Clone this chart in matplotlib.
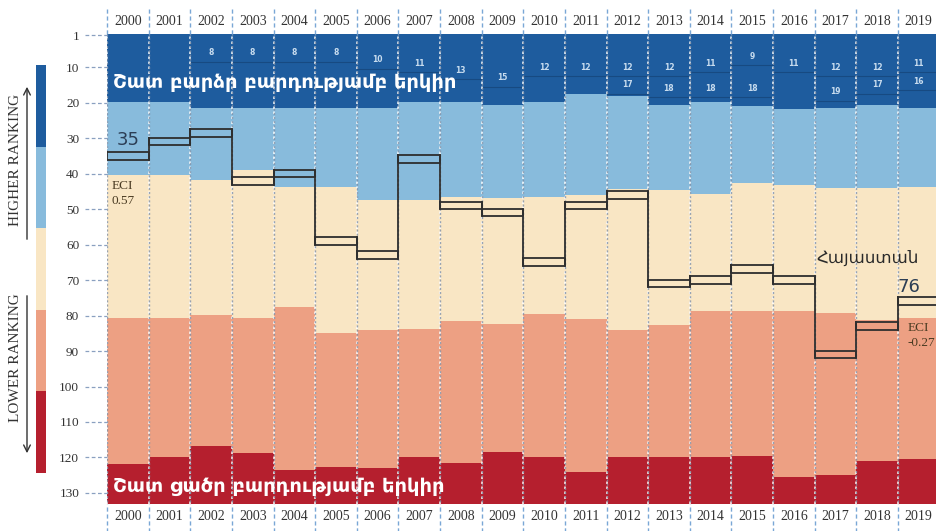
import matplotlib
matplotlib.use('Agg')
import matplotlib.pyplot as plt
import matplotlib.transforms as mtransforms

# data (rank, 1 = best)
years = list(range(2000, 2020))
dark_blue_end = [19.9, 19.9, 21.6, 21.6, 21.6, 21.6, 21.6, 19.9, 19.9, 20.7,
                 19.9, 17.6, 18.2, 20.7, 19.9, 21.0, 21.8, 21.6, 20.7, 21.6]
light_blue_end = [40.4, 40.4, 41.8, 39.0, 43.8, 43.8, 47.5, 47.5, 46.6, 46.9,
                  46.6, 46.0, 44.5, 44.7, 45.8, 42.7, 43.2, 44.1, 44.1, 43.8]
beige_end = [80.7, 80.7, 79.9, 80.7, 77.6, 85.0, 84.1, 83.8, 81.6, 82.4,
             79.6, 81.0, 84.1, 82.7, 78.7, 78.7, 78.7, 79.3, 81.3, 80.7]
salmon_end = [121.8, 119.9, 116.8, 118.7, 123.5, 122.7, 123.0, 120.0, 121.6, 118.5,
              120.0, 124.0, 120.0, 120.0, 120.0, 119.6, 125.5, 124.9, 121.0, 120.5]
armenia = [35, 31, 28.5, 42, 40, 59, 63, 36, 49, 51, 65, 49, 46, 71, 70, 67, 70, 91, 83, 76]
top_a = [None, None, 8, 8, 8, 8, 10, 11, 13, 15, 12, 12, 12, 12, 11, 9, 11, 12, 12, 11]
top_b = [None] * 12 + [17, 18, 18, 18, None, 19, 17, 16]
yticks = [1, 10, 20, 30, 40, 50, 60, 70, 80, 90, 100, 110, 120, 130]

colors = ['#1e5c9e', '#88bbdc', '#f9e6c4', '#eda083', '#b51f2e']
serif = 'Liberation Serif'

W, H = 937, 531
fig = plt.figure(figsize=(W / 100, H / 100), dpi=100)
fig.patch.set_facecolor('white')

ax = fig.add_axes([107 / W, 1 - 504 / H, (939.5 - 107) / W, 470 / H])
x = list(range(len(years)))
ymin, ymax = 0.7, 133.1

# stacked bands
b0 = [0] * len(years)
bands = [b0, dark_blue_end, light_blue_end, beige_end, salmon_end, [140] * len(years)]
for k in range(5):
    h = [bands[k + 1][i] - bands[k][i] for i in x]
    ax.bar(x, h, bottom=bands[k], width=1.0, color=colors[k], linewidth=0, zorder=1)

ax.set_xlim(-0.5, len(years) - 0.5)
ax.set_ylim(ymax, ymin)

# faint lines + small numbers in the top band
for series in (top_a, top_b):
    for i, v in enumerate(series):
        if v is None:
            continue
        ax.plot([i - 0.5, i + 0.5], [v + 0.5, v + 0.5], color='#174a82', lw=0.8, zorder=2)
        ax.text(i, v - 2.0, str(v), color='#c8dcef', fontsize=5.5, fontweight='bold',
                ha='center', va='center', zorder=3)

# year separators
for i in range(len(years) + 1):
    xb = i - 0.5
    ax.axvline(xb, color='white', lw=1.2, ls=(0, (1.5, 1.5)), alpha=0.9, zorder=4)
    ax.axvline(xb, color='#7f8fa6', lw=1.0, ls=(1.5, (1.5, 1.5)), alpha=0.8, zorder=4)
    ax.axvline(xb, ymin=1.0, ymax=1.053, color='#7aa7d6', lw=1.0, ls=(0, (3, 2)),
               clip_on=False, zorder=4)
    ax.axvline(xb, ymin=-0.06, ymax=0.0, color='#7aa7d6', lw=1.0, ls=(0, (3, 2)),
               clip_on=False, zorder=4)

# Armenia step boxes
hh = 1.1
for i, r in enumerate(armenia):
    ax.plot([i - 0.5, i + 0.5, i + 0.5, i - 0.5, i - 0.5],
            [r - hh, r - hh, r + hh, r + hh, r - hh], color='#2e2e2e', lw=1.3, zorder=5)
    if i > 0:
        p = armenia[i - 1]
        ax.plot([i - 0.5, i - 0.5], [min(p, r) - hh, max(p, r) + hh],
                color='#2e2e2e', lw=1.3, zorder=5)

# axes styling
for s in ax.spines.values():
    s.set_visible(False)
ax.set_xticks(x)
ax.set_xticklabels([str(y) for y in years], fontfamily=serif, fontsize=10, color='#333333')
ax.tick_params(axis='x', length=0, pad=4, top=True, labeltop=True, bottom=True, labelbottom=True)
ax.set_yticks(yticks)
ax.set_yticklabels([str(t) for t in yticks], fontfamily=serif, fontsize=9.5, color='#333333')
ax.tick_params(axis='y', length=0, pad=20)
trans = mtransforms.blended_transform_factory(ax.transAxes, ax.transData)
for t in yticks:
    ax.plot([-22 / 832, 0], [t, t], transform=trans, color='#8aa0c0', lw=0.9,
            ls=(0, (3, 2)), clip_on=False, zorder=4)

# texts
ax.text(-0.36, 14.5, 'Շատ բարձր բարդությամբ երկիր', color='white', fontsize=14,
        fontweight='bold', ha='left', va='center', zorder=6)
ax.text(-0.36, 128.3, 'Շատ ցածր բարդությամբ երկիր', color='white', fontsize=14,
        fontweight='bold', ha='left', va='center', zorder=6)
ax.text(-0.26, 30.6, '35', color='#2c3e55', fontsize=13, ha='left', va='center', zorder=6)
ax.text(18.5, 72, '76', color='#2c3e55', fontsize=13, ha='left', va='center', zorder=6)
ax.text(16.54, 63.8, 'Հայաստան', color='#2a2a2a', fontsize=12, ha='left', va='center', zorder=6)
ax.text(-0.38, 41.8, 'ECI\n0.57', color='#4a3b22', fontsize=9.5, fontfamily=serif,
        ha='left', va='top', linespacing=1.3, zorder=6)
ax.text(18.73, 81.8, 'ECI\n-0.27', color='#4a3b22', fontsize=9.5, fontfamily=serif,
        ha='left', va='top', linespacing=1.3, zorder=6)

# left colour key
lax = fig.add_axes([36 / W, 1 - 473 / H, 10 / W, 408 / H])
lax.bar([0] * 5, [1] * 5, bottom=[0, 1, 2, 3, 4], width=1.0, color=colors, linewidth=0)
lax.set_xlim(-0.5, 0.5)
lax.set_ylim(5, 0)
lax.axis('off')

fig.text(16 / W, 1 - 160 / H, 'HIGHER RANKING', rotation=90, ha='center', va='center',
         fontfamily=serif, fontsize=11, color='#333333')
fig.text(16 / W, 1 - 358 / H, 'LOWER RANKING', rotation=90, ha='center', va='center',
         fontfamily=serif, fontsize=11, color='#333333')
fig.add_artist(matplotlib.patches.FancyArrowPatch(
    (27 / W, 1 - 242 / H), (27 / W, 1 - 84 / H), transform=fig.transFigure,
    arrowstyle='->', mutation_scale=12, color='#333333', lw=1.0))
fig.add_artist(matplotlib.patches.FancyArrowPatch(
    (27 / W, 1 - 293 / H), (27 / W, 1 - 456 / H), transform=fig.transFigure,
    arrowstyle='->', mutation_scale=12, color='#333333', lw=1.0))

fig.savefig('out.png', dpi=100)
